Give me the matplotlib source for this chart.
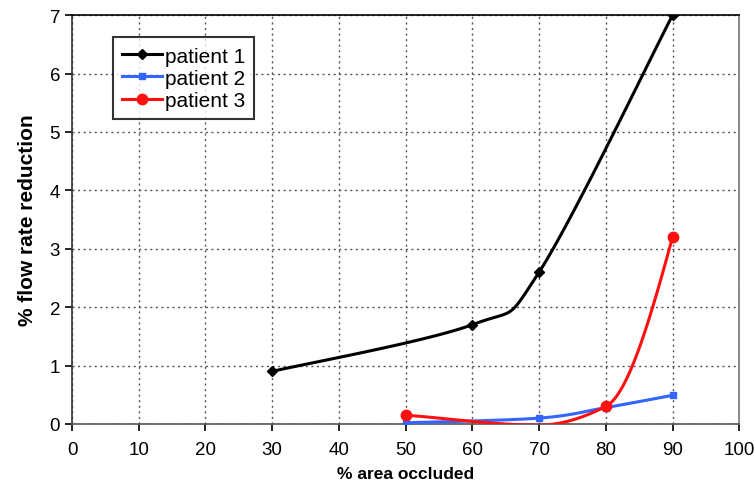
import numpy as np
import matplotlib.pyplot as plt

plt.rcParams['font.family'] = ['Liberation Sans', 'DejaVu Sans']

# data
p1_x = [30, 60, 70, 90]
p1_y = [0.9, 1.7, 2.6, 7.0]
p2_x = [50, 70, 80, 90]
p2_y = [0.02, 0.1, 0.28, 0.49]
p3_x = [50, 70, 80, 90]
p3_y = [0.15, -0.02, 0.3, 3.2]
labels = ['patient 1', 'patient 2', 'patient 3']


def bezier_smooth(xs, ys, n=40):
    # excel style smoothed line: bezier with control points at 1/6 of neighbours
    xs = np.asarray(xs, float)
    ys = np.asarray(ys, float)
    px = np.concatenate([[xs[0]], xs, [xs[-1]]])
    py = np.concatenate([[ys[0]], ys, [ys[-1]]])
    outx, outy = [], []
    t = np.linspace(0, 1, n)
    for i in range(1, len(px) - 2):
        for arr, out in ((px, outx), (py, outy)):
            p0, p1, p2, p3 = arr[i - 1], arr[i], arr[i + 1], arr[i + 2]
            c1 = p1 + (p2 - p0) / 6
            c2 = p2 - (p3 - p1) / 6
            out.extend((1 - t) ** 3 * p1 + 3 * (1 - t) ** 2 * t * c1
                       + 3 * (1 - t) * t ** 2 * c2 + t ** 3 * p2)
    return outx, outy


def pchip_smooth(xs, ys, n=40):
    xs = np.asarray(xs, float)
    ys = np.asarray(ys, float)
    h = np.diff(xs)
    s = np.diff(ys) / h
    d = np.zeros(len(xs))
    for k in range(1, len(xs) - 1):
        if s[k - 1] * s[k] > 0:
            w1 = 2 * h[k] + h[k - 1]
            w2 = h[k] + 2 * h[k - 1]
            d[k] = (w1 + w2) / (w1 / s[k - 1] + w2 / s[k])
    d[0] = s[0]
    d[-1] = ((2 * h[-1] + h[-2]) * s[-1] - h[-1] * s[-2]) / (h[-1] + h[-2])
    if d[-1] * s[-1] <= 0:
        d[-1] = 0
    outx, outy = [], []
    t = np.linspace(0, 1, n)
    for i in range(len(xs) - 1):
        hh = h[i]
        outx.extend(xs[i] + t * hh)
        outy.extend((2 * t**3 - 3 * t**2 + 1) * ys[i] + (t**3 - 2 * t**2 + t) * hh * d[i]
                    + (-2 * t**3 + 3 * t**2) * ys[i + 1] + (t**3 - t**2) * hh * d[i + 1])
    return outx, outy


fig = plt.figure(figsize=(7.54, 4.89), dpi=100)
ax = fig.add_axes([0.0955, 0.131, 0.885, 0.836])

series = [
    (p1_x, p1_y, 'black', 'D', 4.8, bezier_smooth),
    (p2_x, p2_y, '#3366ff', 's', 4.5, bezier_smooth),
    (p3_x, p3_y, '#ff1010', 'o', 7.5, pchip_smooth),
]
handles = []
for (xs, ys, col, mk, ms, fn), lab in zip(series, labels):
    sx, sy = fn(xs, ys)
    ax.plot(sx, sy, color=col, lw=2.2, zorder=3)
    # points below the axis range are not marked
    mx = [x for x, y in zip(xs, ys) if y >= 0]
    my = [y for y in ys if y >= 0]
    ax.plot(mx, my, ls='none', marker=mk, color=col, ms=ms, zorder=4)
    h, = ax.plot([], [], color=col, lw=2.2, marker=mk, ms=ms)
    handles.append(h)

ax.set_xlim(0, 100)
ax.set_ylim(0, 7)
ax.set_xticks(np.arange(0, 101, 10))
ax.set_yticks(np.arange(0, 8, 1))
ax.grid(True, ls=(0, (1.5, 2.5)), color='#555555', lw=1)
ax.tick_params(direction='out', length=5, width=1.2, labelsize=13.5, colors='black')
ax.tick_params(axis='x', pad=7)
for s in ax.spines.values():
    s.set_linewidth(1.2)
ax.spines['left'].set_color('#333333')
ax.spines['bottom'].set_color('#555555')
ax.spines['right'].set_color('#777777')

ax.set_xlabel('% area occluded', fontsize=12.5, fontweight='bold', labelpad=6)
ax.set_ylabel('% flow rate reduction', fontsize=15, fontweight='bold', labelpad=9)

leg = ax.legend(handles, labels, loc='upper left', bbox_to_anchor=(0.061, 0.946),
                borderaxespad=0, fontsize=15, frameon=True, fancybox=False,
                handlelength=1.9, handletextpad=0.15, borderpad=0.45,
                labelspacing=0.15)
leg.get_frame().set_edgecolor('black')
leg.get_frame().set_linewidth(1.5)

fig.savefig('out.png', dpi=100)
